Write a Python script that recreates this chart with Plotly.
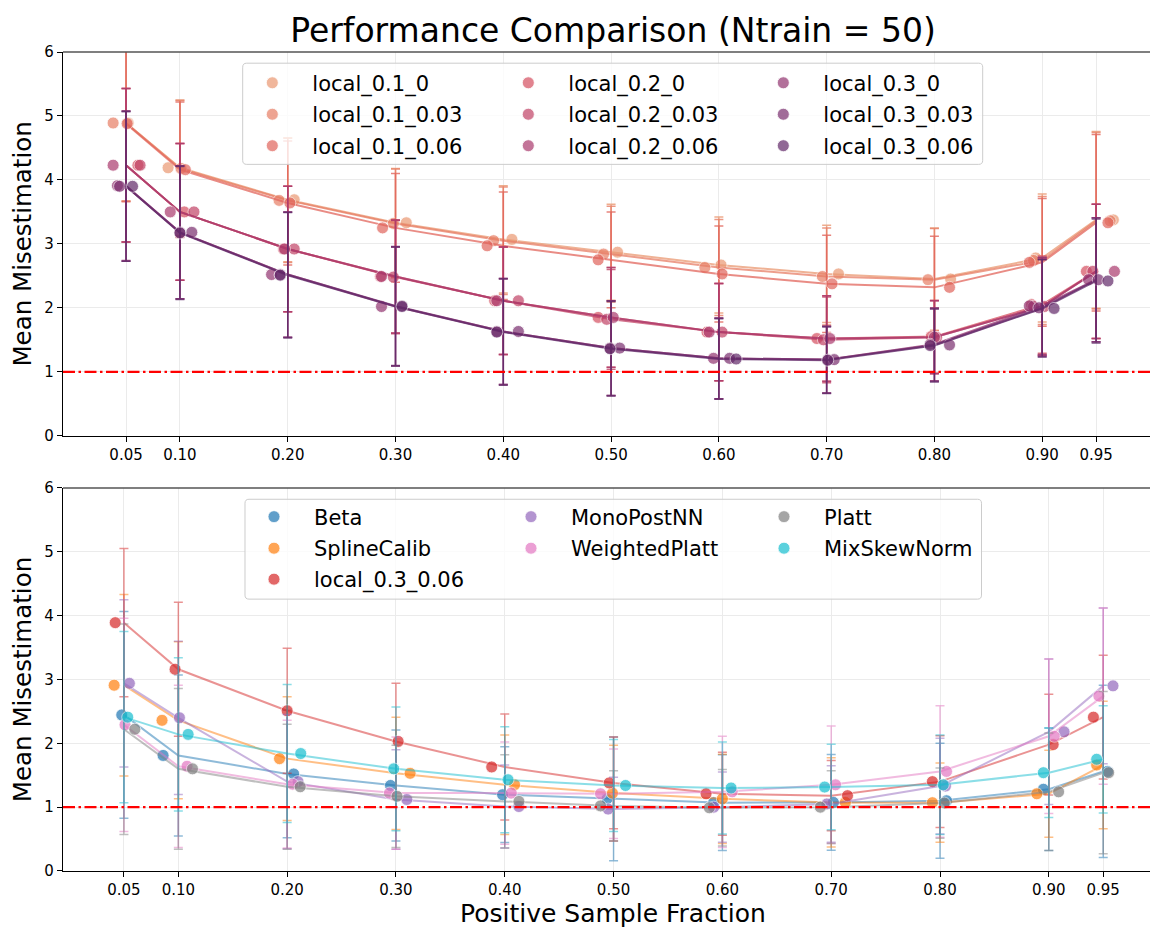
import plotly.graph_objects as go

# ---------------- data ----------------
fractions = [0.05, 0.10, 0.20, 0.30, 0.40, 0.50, 0.60, 0.70, 0.80, 0.90, 0.95]
x_tick_labels = ["0.05", "0.10", "0.20", "0.30", "0.40", "0.50", "0.60", "0.70", "0.80", "0.90", "0.95"]
y_tick_values = [0, 1, 2, 3, 4, 5, 6]
reference_level = 1.0

# top panel (local variants): means
local_01_0_mean = [4.89, 4.19, 3.69, 3.33, 3.07, 2.87, 2.67, 2.53, 2.45, 2.78, 3.375]
local_01_003_mean = [4.89, 4.18, 3.68, 3.32, 3.05, 2.84, 2.63, 2.49, 2.44, 2.74, 3.36]
local_01_006_mean = [4.88, 4.16, 3.64, 3.25, 2.97, 2.75, 2.53, 2.375, 2.32, 2.71, 3.33]
local_02_0_mean = [4.23, 3.50, 2.92, 2.49, 2.11, 1.85, 1.62, 1.52, 1.55, 2.05, 2.57]
local_02_003_mean = [4.23, 3.50, 2.92, 2.48, 2.11, 1.82, 1.62, 1.50, 1.54, 2.02, 2.57]
local_02_006_mean = [4.23, 3.50, 2.92, 2.49, 2.11, 1.85, 1.62, 1.52, 1.54, 2.02, 2.57]
local_03_0_mean = [3.91, 3.18, 2.52, 2.02, 1.63, 1.37, 1.21, 1.19, 1.43, 2.03, 2.44]
local_03_003_mean = [3.90, 3.18, 2.52, 2.03, 1.63, 1.37, 1.21, 1.19, 1.42, 2.00, 2.44]
local_03_006_mean = [3.90, 3.17, 2.51, 2.02, 1.62, 1.36, 1.20, 1.18, 1.41, 1.99, 2.42]

# top panel: standard deviations (per window size)
local_01_std = [1.22, 1.06, 0.97, 0.85, 0.84, 0.75, 0.75, 0.76, 0.80, 1.00, 1.38]
local_02_std = [1.20, 1.07, 0.98, 0.885, 0.84, 0.78, 0.76, 0.67, 0.57, 0.76, 1.05]
local_03_std = [1.17, 1.04, 0.98, 0.93, 0.83, 0.74, 0.63, 0.52, 0.57, 0.76, 0.97]

# top panel: observed horizontal jitter of the points
local_01_0_jit = [0.002, -0.011, 0.006, 0.010, 0.008, 0.006, 0.002, 0.011, 0.015, -0.006, 0.016]
local_01_003_jit = [-0.012, 0.001, -0.008, -0.002, -0.009, -0.007, -0.013, -0.004, -0.006, -0.008, 0.013]
local_01_006_jit = [0.001, 0.005, 0.002, -0.012, -0.015, -0.012, 0.003, 0.005, 0.014, -0.012, 0.011]
local_02_0_jit = [0.011, 0.004, -0.004, -0.014, -0.008, -0.012, -0.011, -0.009, -0.003, -0.010, -0.009]
local_02_003_jit = [0.013, 0.013, 0.006, -0.002, 0.014, -0.004, 0.003, -0.003, 0.002, 0.002, -0.003]
local_02_006_jit = [-0.012, -0.009, -0.003, -0.013, -0.006, 0.002, -0.009, 0.003, 0.000, -0.008, 0.017]
local_03_0_jit = [-0.008, 0.000, -0.015, -0.013, -0.006, -0.001, -0.005, 0.001, -0.004, -0.012, -0.007]
local_03_003_jit = [-0.006, 0.011, -0.007, 0.006, 0.014, 0.008, 0.010, 0.007, 0.014, -0.003, 0.002]
local_03_006_jit = [0.006, 0.000, -0.007, 0.006, -0.006, -0.001, 0.016, 0.001, -0.004, 0.011, 0.011]

top_names = ["local_0.1_0", "local_0.1_0.03", "local_0.1_0.06",
             "local_0.2_0", "local_0.2_0.03", "local_0.2_0.06",
             "local_0.3_0", "local_0.3_0.03", "local_0.3_0.06"]

# bottom panel (method comparison): means
beta_mean = [2.445, 1.81, 1.52, 1.34, 1.195, 1.13, 1.07, 1.075, 1.10, 1.28, 1.56]
spline_mean = [2.91, 2.36, 1.76, 1.53, 1.35, 1.22, 1.13, 1.075, 1.07, 1.21, 1.66]
local_best_mean = [3.89, 3.16, 2.51, 2.03, 1.63, 1.38, 1.21, 1.18, 1.40, 1.98, 2.41]
mono_mean = [2.94, 2.40, 1.40, 1.12, 1.01, 0.97, 1.00, 1.05, 1.33, 2.18, 2.90]
wplatt_mean = [2.29, 1.64, 1.36, 1.22, 1.22, 1.21, 1.24, 1.35, 1.56, 2.11, 2.74]
platt_mean = [2.22, 1.60, 1.32, 1.17, 1.09, 1.02, 0.99, 1.00, 1.065, 1.24, 1.54]
mixskew_mean = [2.41, 2.14, 1.84, 1.60, 1.43, 1.34, 1.30, 1.315, 1.35, 1.54, 1.75]

# bottom panel: standard deviations
beta_std = [1.62, 1.26, 1.00, 0.87, 0.75, 0.97, 0.75, 0.75, 0.90, 0.96, 1.35]
spline_std = [1.42, 1.23, 0.97, 0.88, 0.78, 0.75, 0.70, 0.70, 0.62, 0.68, 1.00]
local_best_std = [1.16, 1.05, 0.98, 0.91, 0.83, 0.72, 0.65, 0.55, 0.72, 0.79, 0.97]
mono_std = [1.31, 1.20, 1.05, 0.78, 0.65, 0.50, 0.55, 0.60, 0.75, 1.14, 1.22]
wplatt_std = [1.67, 1.27, 1.00, 0.88, 0.80, 0.70, 0.87, 0.92, 1.03, 1.21, 1.38]
platt_std = [1.65, 1.26, 0.98, 0.80, 0.73, 0.55, 0.60, 0.57, 0.55, 0.92, 1.27]
mixskew_std = [1.34, 1.20, 1.08, 0.97, 0.83, 0.72, 0.72, 0.67, 0.78, 0.70, 0.84]

# bottom panel: observed horizontal jitter
beta_jit = [-0.002, -0.014, 0.006, -0.005, -0.002, -0.006, -0.008, 0.002, 0.006, -0.005, 0.004]
spline_jit = [-0.009, -0.015, -0.007, 0.013, 0.009, -0.001, 0.000, 0.013, -0.007, -0.011, -0.006]
local_best_jit = [-0.008, -0.003, 0.000, 0.002, -0.012, -0.004, -0.015, 0.015, -0.007, 0.004, -0.009]
mono_jit = [0.005, 0.001, 0.010, 0.010, 0.013, -0.005, -0.008, -0.004, 0.005, 0.014, 0.009]
wplatt_jit = [0.001, 0.008, 0.005, -0.006, 0.006, -0.012, 0.009, 0.004, 0.006, 0.005, -0.004]
platt_jit = [0.010, 0.013, 0.012, 0.001, 0.013, -0.012, -0.012, -0.010, 0.004, 0.009, 0.005]
mixskew_jit = [0.0035, 0.009, 0.0125, -0.002, 0.003, 0.011, 0.008, -0.006, 0.003, -0.005, -0.006]

bottom_names = ["Beta", "SplineCalib", "local_0.3_0.06", "MonoPostNN", "WeightedPlatt", "Platt", "MixSkewNorm"]

# ---------------- styles ----------------
FONT = "DejaVu Sans"
flare9 = [(234, 152, 114), (231, 126, 101), (225, 101, 92), (213, 80, 96), (193, 67, 102),
          (170, 58, 109), (146, 52, 112), (122, 46, 111), (98, 41, 105)]
tab_colors = {"Beta": (31, 119, 180), "SplineCalib": (255, 127, 14), "local_0.3_0.06": (214, 39, 40),
              "MonoPostNN": (148, 103, 189), "WeightedPlatt": (227, 119, 194), "Platt": (127, 127, 127),
              "MixSkewNorm": (23, 190, 207)}

W, H = 1150, 929
ML, MR, MT, MB = 63, 0, 51.5, 57.5
PW, PH = W - ML - MR, H - MT - MB


def rgba(c, a):
    return "rgba(%d,%d,%d,%.3f)" % (c[0], c[1], c[2], a)


def px_x(px):
    return (px - ML) / PW


def px_y(py):
    return (H - MB - py) / PH


top_series = [
    (top_names[0], local_01_0_mean, local_01_std, local_01_0_jit),
    (top_names[1], local_01_003_mean, local_01_std, local_01_003_jit),
    (top_names[2], local_01_006_mean, local_01_std, local_01_006_jit),
    (top_names[3], local_02_0_mean, local_02_std, local_02_0_jit),
    (top_names[4], local_02_003_mean, local_02_std, local_02_003_jit),
    (top_names[5], local_02_006_mean, local_02_std, local_02_006_jit),
    (top_names[6], local_03_0_mean, local_03_std, local_03_0_jit),
    (top_names[7], local_03_003_mean, local_03_std, local_03_003_jit),
    (top_names[8], local_03_006_mean, local_03_std, local_03_006_jit),
]
bottom_series = [
    (bottom_names[0], beta_mean, beta_std, beta_jit),
    (bottom_names[1], spline_mean, spline_std, spline_jit),
    (bottom_names[2], local_best_mean, local_best_std, local_best_jit),
    (bottom_names[3], mono_mean, mono_std, mono_jit),
    (bottom_names[4], wplatt_mean, wplatt_std, wplatt_jit),
    (bottom_names[5], platt_mean, platt_std, platt_jit),
    (bottom_names[6], mixskew_mean, mixskew_std, mixskew_jit),
]

# legend rows (matplotlib ncol=3, column-major filling)
top_legend_rows = {0: "legend", 3: "legend", 6: "legend",
                   1: "legend2", 4: "legend2", 7: "legend2",
                   2: "legend3", 5: "legend3", 8: "legend3"}
top_legend_w = {0: 171, 1: 171, 2: 171, 3: 170, 4: 170, 5: 170, 6: 170, 7: 170, 8: 170}
bottom_legend_rows = {0: "legend4", 3: "legend4", 5: "legend4",
                      1: "legend5", 4: "legend5", 6: "legend5",
                      2: "legend6"}
bottom_legend_w = {0: 172, 1: 172, 2: 172, 3: 168, 4: 168, 5: 168, 6: 168}
bottom_rank = {0: 1, 3: 2, 5: 3, 1: 1, 4: 2, 6: 3, 2: 1}

fig = go.Figure()


def add_series(name, mean, std, jit, color, xa, ya, legend, lw, rank,
               line_a, err_a, mk_a):
    fig.add_trace(go.Scatter(
        x=fractions, y=mean, mode="lines", xaxis=xa, yaxis=ya,
        line=dict(color=rgba(color, line_a), width=2),
        error_y=dict(type="data", array=std, visible=True, color=rgba(color, err_a),
                     thickness=1.5, width=4.5),
        showlegend=False, hoverinfo="skip"))
    fig.add_trace(go.Scatter(
        x=[f + j for f, j in zip(fractions, jit)], y=mean, mode="markers",
        xaxis=xa, yaxis=ya, name=name, legend=legend, legendwidth=lw, legendrank=rank,
        marker=dict(size=12, color=rgba(color, 1), opacity=mk_a,
                    line=dict(color="white", width=0.8))))


for i, (name, mean, std, jit) in enumerate(top_series):
    add_series(name, mean, std, jit, flare9[i], "x", "y", top_legend_rows[i],
               top_legend_w[i], i // 3 + 1, 0.75, 0.8, 0.7)

for i, (name, mean, std, jit) in enumerate(bottom_series):
    add_series(name, mean, std, jit, tab_colors[name], "x2", "y2", bottom_legend_rows[i],
               bottom_legend_w[i], bottom_rank[i], 0.5, 0.5, 0.7)

# ---------------- axes ----------------
common_x = dict(tickmode="array", tickvals=fractions, ticktext=x_tick_labels,
                ticks="outside", ticklen=5, tickwidth=1.2, tickcolor="black",
                showline=True, linecolor="black", linewidth=1.2,
                showgrid=True, gridcolor="#ebebeb", gridwidth=1, zeroline=False,
                tickfont=dict(family=FONT, size=15, color="black"), automargin=False)
common_y = dict(range=[0, 6], tickmode="array", tickvals=y_tick_values,
                ticks="outside", ticklen=5, tickwidth=1.2, tickcolor="black",
                showline=True, linecolor="black", linewidth=1.2,
                showgrid=True, gridcolor="#ebebeb", gridwidth=1, zeroline=False,
                tickfont=dict(family=FONT, size=15, color="black"), automargin=False,
                title=dict(text="Mean Misestimation", font=dict(family=FONT, size=24.5, color="black"),
                           standoff=5))

top_dom = [px_y(435.7), 1.0]
bot_dom = [0.0, px_y(488.0)]

fig.update_layout(
    width=W, height=H,
    margin=dict(l=ML, r=MR, t=MT, b=MB),
    paper_bgcolor="white", plot_bgcolor="white",
    font=dict(family=FONT, color="black"),
    title=dict(text="Performance Comparison (Ntrain = 50)", font=dict(family=FONT, size=33, color="black"),
               x=613 / W, xref="container", xanchor="center",
               y=1 - 30 / H, yref="container", yanchor="middle"),
    xaxis=dict(common_x, domain=[0, 1], anchor="y", range=[-0.0085, 1.0]),
    yaxis=dict(common_y, domain=top_dom, anchor="x"),
    xaxis2=dict(common_x, domain=[0, 1], anchor="y2", range=[-0.006, 0.993]),
    yaxis2=dict(common_y, domain=bot_dom, anchor="x2"),
    showlegend=True,
)

# x-axis title, centred on the (partly cropped) axes box
fig.add_annotation(text="Positive Sample Fraction", xref="paper", yref="paper",
                   x=px_x(613), y=px_y(914), xanchor="center", yanchor="middle",
                   showarrow=False, font=dict(family=FONT, size=25, color="black"))

# legends: one horizontal legend per row
leg_font = dict(family=FONT, size=21, color="black")
row_centers_top = [82.3, 113.8, 145.3]
row_centers_bot = [516.7, 548.3, 579.3]
h_item = 21 * 1.3 + 3
for k, nm in enumerate(["legend", "legend2", "legend3"]):
    fig.update_layout({nm: dict(orientation="h", x=px_x(272.3 - 40), xanchor="left",
                                y=px_y(row_centers_top[k] - h_item / 2 - 5), yanchor="top",
                                bgcolor="rgba(0,0,0,0)", borderwidth=0, font=leg_font,
                                itemwidth=70, traceorder="normal")})
for k, nm in enumerate(["legend4", "legend5", "legend6"]):
    fig.update_layout({nm: dict(orientation="h", x=px_x(274 - 40), xanchor="left",
                                y=px_y(row_centers_bot[k] - h_item / 2 - 5), yanchor="top",
                                bgcolor="rgba(0,0,0,0)", borderwidth=0, font=leg_font,
                                itemwidth=70, traceorder="normal")})


def rounded_box(x0, y0, x1, y1, r=4):
    pts = [("M", x0 + r, y0), ("L", x1 - r, y0), ("Q", x1, y0, x1, y0 + r),
           ("L", x1, y1 - r), ("Q", x1, y1, x1 - r, y1), ("L", x0 + r, y1),
           ("Q", x0, y1, x0, y1 - r), ("L", x0, y0 + r), ("Q", x0, y0, x0 + r, y0)]
    out = []
    for p in pts:
        if p[0] == "Q":
            out.append("Q%.5f,%.5f %.5f,%.5f" % (px_x(p[1]), px_y(p[2]), px_x(p[3]), px_y(p[4])))
        else:
            out.append("%s%.5f,%.5f" % (p[0], px_x(p[1]), px_y(p[2])))
    return " ".join(out) + " Z"


shapes = []
for ya in ["y", "y2"]:
    xd = "x domain" if ya == "y" else "x2 domain"
    shapes.append(dict(type="line", xref=xd, yref=ya,
                       x0=0, x1=1, y0=reference_level, y1=reference_level, layer="above",
                       line=dict(color="rgb(255,0,0)", width=2.2, dash="12px,3.5px,2.5px,3.5px")))
    shapes.append(dict(type="line", xref=xd, yref=ya + " domain",
                       x0=0, x1=1, y0=1, y1=1, layer="above",
                       line=dict(color="#555555", width=1.5)))
shapes.append(dict(type="path", xref="paper", yref="paper", path=rounded_box(242.7, 62.7, 982.7, 164),
                   fillcolor="rgba(255,255,255,0.8)", line=dict(color="#cccccc", width=1), layer="above"))
shapes.append(dict(type="path", xref="paper", yref="paper", path=rounded_box(245, 499.3, 981.5, 599.3),
                   fillcolor="rgba(255,255,255,0.8)", line=dict(color="#cccccc", width=1), layer="above"))
fig.update_layout(shapes=shapes)

fig.write_html("out.html")
